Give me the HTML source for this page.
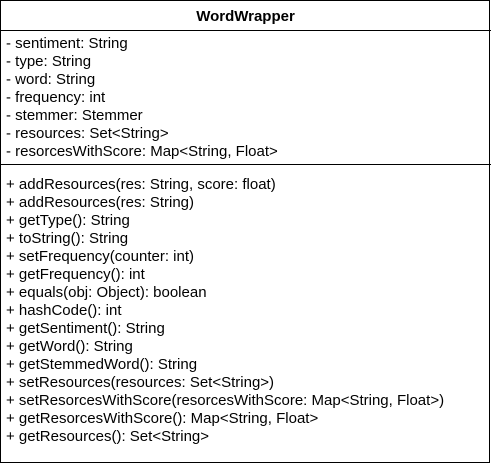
<!DOCTYPE html>
<html><head><style>
html,body{margin:0;padding:0;background:#fff;width:491px;height:464px;overflow:hidden}
.box{position:absolute;left:0;top:0;width:488px;height:461px;border:1.5px solid #000;box-sizing:content-box}
.t{position:absolute;left:6px;font:15px "Liberation Sans",Arial,sans-serif;color:#000;white-space:pre;line-height:18px}
.h{position:absolute;left:0;width:491px;text-align:center;top:8px;font:bold 15px "Liberation Sans",Arial,sans-serif}
.l{position:absolute;left:0;width:491px;height:1px;background:#000}
</style></head><body>
<div class="box"></div>
<div class="h">WordWrapper</div>
<div class="l" style="top:30px"></div>
<div class="l" style="top:164px"></div>
<div class="t" style="top:35px">- sentiment: String
- type: String
- word: String
- frequency: int
- stemmer: Stemmer
- resources: Set&lt;String&gt;
- resorcesWithScore: Map&lt;String, Float&gt;</div>
<div class="t" style="top:176px">+ addResources(res: String, score: float)
+ addResources(res: String)
+ getType(): String
+ toString(): String
+ setFrequency(counter: int)
+ getFrequency(): int
+ equals(obj: Object): boolean
+ hashCode(): int
+ getSentiment(): String
+ getWord(): String
+ getStemmedWord(): String
+ setResources(resources: Set&lt;String&gt;)
+ setResorcesWithScore(resorcesWithScore: Map&lt;String, Float&gt;)
+ getResorcesWithScore(): Map&lt;String, Float&gt;
+ getResources(): Set&lt;String&gt;</div>
</body></html>
